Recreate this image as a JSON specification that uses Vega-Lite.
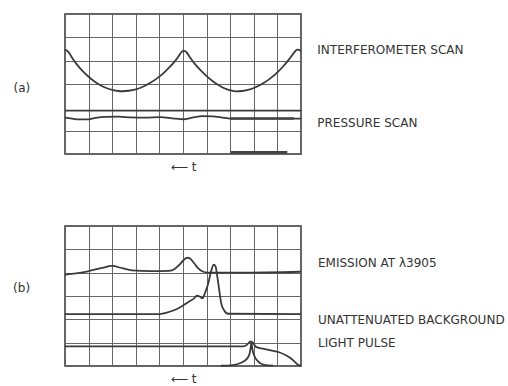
{
  "$schema": "https://vega.github.io/schema/vega-lite/v6.json",
  "background": "white",
  "padding": {"left": 12, "top": 13, "right": 0, "bottom": 0},
  "bounds": "flush",
  "spacing": 72,
  "config": {
    "view": {"stroke": "#333", "strokeWidth": 1.5},
    "axis": {"grid": true, "gridColor": "#666", "gridWidth": 1, "gridOpacity": 1, "labels": false, "ticks": false, "domain": false, "titleFont": "DejaVu Sans", "titleFontSize": 12, "titleFontWeight": "normal", "titleColor": "#333", "titlePadding": 7},
    "text": {"font": "DejaVu Sans", "fontSize": 12, "fill": "#333", "align": "left", "baseline": "middle"}
  },
  "datasets": {
    "traces": [
      {"p": "a", "s": "interferometer", "x": 0, "y": 4.47},
      {"p": "a", "s": "interferometer", "x": 0.15, "y": 4.37},
      {"p": "a", "s": "interferometer", "x": 0.3, "y": 4.13},
      {"p": "a", "s": "interferometer", "x": 0.5, "y": 3.84},
      {"p": "a", "s": "interferometer", "x": 0.75, "y": 3.55},
      {"p": "a", "s": "interferometer", "x": 1.0, "y": 3.31},
      {"p": "a", "s": "interferometer", "x": 1.25, "y": 3.11},
      {"p": "a", "s": "interferometer", "x": 1.5, "y": 2.95},
      {"p": "a", "s": "interferometer", "x": 1.75, "y": 2.83},
      {"p": "a", "s": "interferometer", "x": 2.0, "y": 2.75},
      {"p": "a", "s": "interferometer", "x": 2.25, "y": 2.7},
      {"p": "a", "s": "interferometer", "x": 2.44, "y": 2.69},
      {"p": "a", "s": "interferometer", "x": 2.7, "y": 2.71},
      {"p": "a", "s": "interferometer", "x": 3.0, "y": 2.77},
      {"p": "a", "s": "interferometer", "x": 3.3, "y": 2.88},
      {"p": "a", "s": "interferometer", "x": 3.6, "y": 3.04},
      {"p": "a", "s": "interferometer", "x": 3.9, "y": 3.24},
      {"p": "a", "s": "interferometer", "x": 4.2, "y": 3.49},
      {"p": "a", "s": "interferometer", "x": 4.45, "y": 3.74},
      {"p": "a", "s": "interferometer", "x": 4.65, "y": 3.97},
      {"p": "a", "s": "interferometer", "x": 4.8, "y": 4.17},
      {"p": "a", "s": "interferometer", "x": 4.92, "y": 4.35},
      {"p": "a", "s": "interferometer", "x": 5.03, "y": 4.43},
      {"p": "a", "s": "interferometer", "x": 5.14, "y": 4.37},
      {"p": "a", "s": "interferometer", "x": 5.3, "y": 4.14},
      {"p": "a", "s": "interferometer", "x": 5.5, "y": 3.86},
      {"p": "a", "s": "interferometer", "x": 5.75, "y": 3.58},
      {"p": "a", "s": "interferometer", "x": 6.0, "y": 3.34},
      {"p": "a", "s": "interferometer", "x": 6.25, "y": 3.13},
      {"p": "a", "s": "interferometer", "x": 6.5, "y": 2.96},
      {"p": "a", "s": "interferometer", "x": 6.75, "y": 2.82},
      {"p": "a", "s": "interferometer", "x": 7.0, "y": 2.73},
      {"p": "a", "s": "interferometer", "x": 7.26, "y": 2.68},
      {"p": "a", "s": "interferometer", "x": 7.5, "y": 2.7},
      {"p": "a", "s": "interferometer", "x": 7.8, "y": 2.76},
      {"p": "a", "s": "interferometer", "x": 8.1, "y": 2.87},
      {"p": "a", "s": "interferometer", "x": 8.4, "y": 3.03},
      {"p": "a", "s": "interferometer", "x": 8.7, "y": 3.24},
      {"p": "a", "s": "interferometer", "x": 9.0, "y": 3.5},
      {"p": "a", "s": "interferometer", "x": 9.25, "y": 3.76},
      {"p": "a", "s": "interferometer", "x": 9.45, "y": 4.0},
      {"p": "a", "s": "interferometer", "x": 9.6, "y": 4.2},
      {"p": "a", "s": "interferometer", "x": 9.72, "y": 4.37},
      {"p": "a", "s": "interferometer", "x": 9.84, "y": 4.47},
      {"p": "a", "s": "interferometer", "x": 9.92, "y": 4.46},
      {"p": "a", "s": "interferometer", "x": 10, "y": 4.41},
      {"p": "a", "s": "pressure baseline", "x": 0, "y": 1.86},
      {"p": "a", "s": "pressure baseline", "x": 10, "y": 1.86},
      {"p": "a", "s": "pressure", "x": 0, "y": 1.56},
      {"p": "a", "s": "pressure", "x": 0.24, "y": 1.53},
      {"p": "a", "s": "pressure", "x": 0.58, "y": 1.48},
      {"p": "a", "s": "pressure", "x": 0.92, "y": 1.48},
      {"p": "a", "s": "pressure", "x": 1.3, "y": 1.55},
      {"p": "a", "s": "pressure", "x": 1.72, "y": 1.59},
      {"p": "a", "s": "pressure", "x": 2.27, "y": 1.6},
      {"p": "a", "s": "pressure", "x": 2.78, "y": 1.57},
      {"p": "a", "s": "pressure", "x": 3.41, "y": 1.56},
      {"p": "a", "s": "pressure", "x": 4.05, "y": 1.58},
      {"p": "a", "s": "pressure", "x": 4.56, "y": 1.53},
      {"p": "a", "s": "pressure", "x": 5.02, "y": 1.49},
      {"p": "a", "s": "pressure", "x": 5.4, "y": 1.56},
      {"p": "a", "s": "pressure", "x": 5.82, "y": 1.62},
      {"p": "a", "s": "pressure", "x": 6.25, "y": 1.61},
      {"p": "a", "s": "pressure", "x": 6.68, "y": 1.56},
      {"p": "a", "s": "pressure", "x": 7.01, "y": 1.52},
      {"p": "a", "s": "pressure", "x": 10, "y": 1.52},
      {"p": "a", "s": "pressure noise", "x": 7.01, "y": 1.52},
      {"p": "a", "s": "pressure noise", "x": 9.7, "y": 1.52},
      {"p": "a", "s": "bottom noise", "x": 7.01, "y": 0.07},
      {"p": "a", "s": "bottom noise", "x": 9.42, "y": 0.07},
      {"p": "b", "s": "emission", "x": 0, "y": 3.92},
      {"p": "b", "s": "emission", "x": 0.47, "y": 3.97},
      {"p": "b", "s": "emission", "x": 0.97, "y": 4.06},
      {"p": "b", "s": "emission", "x": 1.53, "y": 4.19},
      {"p": "b", "s": "emission", "x": 1.99, "y": 4.29},
      {"p": "b", "s": "emission", "x": 2.42, "y": 4.19},
      {"p": "b", "s": "emission", "x": 2.84, "y": 4.1},
      {"p": "b", "s": "emission", "x": 3.64, "y": 4.07},
      {"p": "b", "s": "emission", "x": 4.41, "y": 4.08},
      {"p": "b", "s": "emission", "x": 4.66, "y": 4.17},
      {"p": "b", "s": "emission", "x": 4.83, "y": 4.32},
      {"p": "b", "s": "emission", "x": 5.0, "y": 4.51},
      {"p": "b", "s": "emission", "x": 5.13, "y": 4.62},
      {"p": "b", "s": "emission", "x": 5.23, "y": 4.64},
      {"p": "b", "s": "emission", "x": 5.34, "y": 4.57},
      {"p": "b", "s": "emission", "x": 5.49, "y": 4.38},
      {"p": "b", "s": "emission", "x": 5.64, "y": 4.19},
      {"p": "b", "s": "emission", "x": 5.81, "y": 4.06},
      {"p": "b", "s": "emission", "x": 6.06, "y": 4.0},
      {"p": "b", "s": "emission", "x": 7.46, "y": 4.0},
      {"p": "b", "s": "emission", "x": 10, "y": 4.04},
      {"p": "b", "s": "background", "x": 0, "y": 2.22},
      {"p": "b", "s": "background", "x": 3.98, "y": 2.22},
      {"p": "b", "s": "background", "x": 4.28, "y": 2.28},
      {"p": "b", "s": "background", "x": 4.62, "y": 2.39},
      {"p": "b", "s": "background", "x": 4.92, "y": 2.54},
      {"p": "b", "s": "background", "x": 5.21, "y": 2.73},
      {"p": "b", "s": "background", "x": 5.47, "y": 2.9},
      {"p": "b", "s": "background", "x": 5.59, "y": 3.01},
      {"p": "b", "s": "background", "x": 5.72, "y": 2.97},
      {"p": "b", "s": "background", "x": 5.83, "y": 2.9},
      {"p": "b", "s": "background", "x": 5.93, "y": 3.12},
      {"p": "b", "s": "background", "x": 6.06, "y": 3.5},
      {"p": "b", "s": "background", "x": 6.19, "y": 4.06},
      {"p": "b", "s": "background", "x": 6.3, "y": 4.34},
      {"p": "b", "s": "background", "x": 6.38, "y": 4.27},
      {"p": "b", "s": "background", "x": 6.44, "y": 3.93},
      {"p": "b", "s": "background", "x": 6.53, "y": 3.29},
      {"p": "b", "s": "background", "x": 6.61, "y": 2.73},
      {"p": "b", "s": "background", "x": 6.74, "y": 2.39},
      {"p": "b", "s": "background", "x": 6.91, "y": 2.24},
      {"p": "b", "s": "background", "x": 10, "y": 2.22},
      {"p": "b", "s": "pulse upper", "x": 0, "y": 0.84},
      {"p": "b", "s": "pulse upper", "x": 7.58, "y": 0.84},
      {"p": "b", "s": "pulse upper", "x": 7.73, "y": 0.93},
      {"p": "b", "s": "pulse upper", "x": 7.86, "y": 1.05},
      {"p": "b", "s": "pulse upper", "x": 7.97, "y": 0.99},
      {"p": "b", "s": "pulse upper", "x": 8.09, "y": 0.82},
      {"p": "b", "s": "pulse upper", "x": 8.39, "y": 0.74},
      {"p": "b", "s": "pulse upper", "x": 8.73, "y": 0.67},
      {"p": "b", "s": "pulse upper", "x": 9.07, "y": 0.59},
      {"p": "b", "s": "pulse upper", "x": 9.36, "y": 0.46},
      {"p": "b", "s": "pulse upper", "x": 9.62, "y": 0.29},
      {"p": "b", "s": "pulse upper", "x": 9.83, "y": 0.09},
      {"p": "b", "s": "pulse upper", "x": 10, "y": 0},
      {"p": "b", "s": "pulse lower", "x": 6.61, "y": 0.01},
      {"p": "b", "s": "pulse lower", "x": 7.12, "y": 0.04},
      {"p": "b", "s": "pulse lower", "x": 7.46, "y": 0.14},
      {"p": "b", "s": "pulse lower", "x": 7.67, "y": 0.27},
      {"p": "b", "s": "pulse lower", "x": 7.8, "y": 0.46},
      {"p": "b", "s": "pulse lower", "x": 7.86, "y": 0.72},
      {"p": "b", "s": "pulse lower", "x": 7.9, "y": 1.02},
      {"p": "b", "s": "pulse lower", "x": 7.94, "y": 0.72},
      {"p": "b", "s": "pulse lower", "x": 8.03, "y": 0.42},
      {"p": "b", "s": "pulse lower", "x": 8.18, "y": 0.2},
      {"p": "b", "s": "pulse lower", "x": 8.43, "y": 0.05},
      {"p": "b", "s": "pulse lower", "x": 8.81, "y": 0.01}
    ],
    "labels": [
      {"p": "a", "x": 10.69, "y": 4.47, "t": "INTERFEROMETER SCAN"},
      {"p": "a", "x": 10.69, "y": 1.35, "t": "PRESSURE SCAN"},
      {"p": "a", "x": -2.18, "y": 2.85, "t": "(a)"},
      {"p": "b", "x": 10.72, "y": 4.43, "t": "EMISSION AT λ3905"},
      {"p": "b", "x": 10.72, "y": 1.96, "t": "UNATTENUATED BACKGROUND"},
      {"p": "b", "x": 10.72, "y": 0.99, "t": "LIGHT PULSE"},
      {"p": "b", "x": -2.2, "y": 3.33, "t": "(b)"}
    ]
  },
  "vconcat": [
    {
      "width": 236,
      "height": 140,
      "layer": [
        {
          "data": {"name": "traces"},
          "transform": [{"filter": "datum.p == 'a' && indexof(datum.s, 'noise') < 0"}],
          "mark": {"type": "line", "interpolate": "monotone", "stroke": "#3a3a3a", "strokeWidth": 1.8},
          "encoding": {
            "x": {"field": "x", "type": "quantitative", "scale": {"domain": [0, 10], "nice": false, "zero": false}, "axis": {"values": [0, 1, 2, 3, 4, 5, 6, 7, 8, 9, 10], "title": "⟵ t"}},
            "y": {"field": "y", "type": "quantitative", "scale": {"domain": [0, 6], "nice": false, "zero": false}, "axis": {"values": [0, 1, 3, 4, 5, 6], "title": null}},
            "detail": {"field": "s"}
          }
        },
        {
          "data": {"name": "traces"},
          "transform": [{"filter": "datum.p == 'a' && indexof(datum.s, 'noise') >= 0"}],
          "mark": {"type": "line", "stroke": "#444", "strokeWidth": 2.6},
          "encoding": {
            "x": {"field": "x", "type": "quantitative", "scale": {"domain": [0, 10], "nice": false, "zero": false}, "axis": {"values": [0, 1, 2, 3, 4, 5, 6, 7, 8, 9, 10], "title": "⟵ t"}},
            "y": {"field": "y", "type": "quantitative", "scale": {"domain": [0, 6], "nice": false, "zero": false}, "axis": {"values": [0, 1, 3, 4, 5, 6], "title": null}},
            "detail": {"field": "s"}
          }
        },
        {
          "data": {"name": "labels"},
          "transform": [{"filter": "datum.p == 'a'"}],
          "mark": {"type": "text"},
          "encoding": {
            "x": {"field": "x", "type": "quantitative", "scale": {"domain": [0, 10], "nice": false, "zero": false}, "axis": {"values": [0, 1, 2, 3, 4, 5, 6, 7, 8, 9, 10], "title": "⟵ t"}},
            "y": {"field": "y", "type": "quantitative", "scale": {"domain": [0, 6], "nice": false, "zero": false}, "axis": {"values": [0, 1, 3, 4, 5, 6], "title": null}},
            "text": {"field": "t"}
          }
        }
      ]
    },
    {
      "width": 236,
      "height": 140,
      "layer": [
        {
          "data": {"name": "traces"},
          "transform": [{"filter": "datum.p == 'b'"}],
          "mark": {"type": "line", "interpolate": "monotone", "stroke": "#3a3a3a", "strokeWidth": 1.8},
          "encoding": {
            "x": {"field": "x", "type": "quantitative", "scale": {"domain": [0, 10], "nice": false, "zero": false}, "axis": {"values": [0, 1, 2, 3, 4, 5, 6, 7, 8, 9, 10], "title": "⟵ t"}},
            "y": {"field": "y", "type": "quantitative", "scale": {"domain": [0, 6], "nice": false, "zero": false}, "axis": {"values": [0, 1, 2, 3, 4, 5, 6], "title": null}},
            "detail": {"field": "s"}
          }
        },
        {
          "data": {"name": "labels"},
          "transform": [{"filter": "datum.p == 'b'"}],
          "mark": {"type": "text"},
          "encoding": {
            "x": {"field": "x", "type": "quantitative", "scale": {"domain": [0, 10], "nice": false, "zero": false}, "axis": {"values": [0, 1, 2, 3, 4, 5, 6, 7, 8, 9, 10], "title": "⟵ t"}},
            "y": {"field": "y", "type": "quantitative", "scale": {"domain": [0, 6], "nice": false, "zero": false}, "axis": {"values": [0, 1, 2, 3, 4, 5, 6], "title": null}},
            "text": {"field": "t"}
          }
        }
      ]
    }
  ]
}
